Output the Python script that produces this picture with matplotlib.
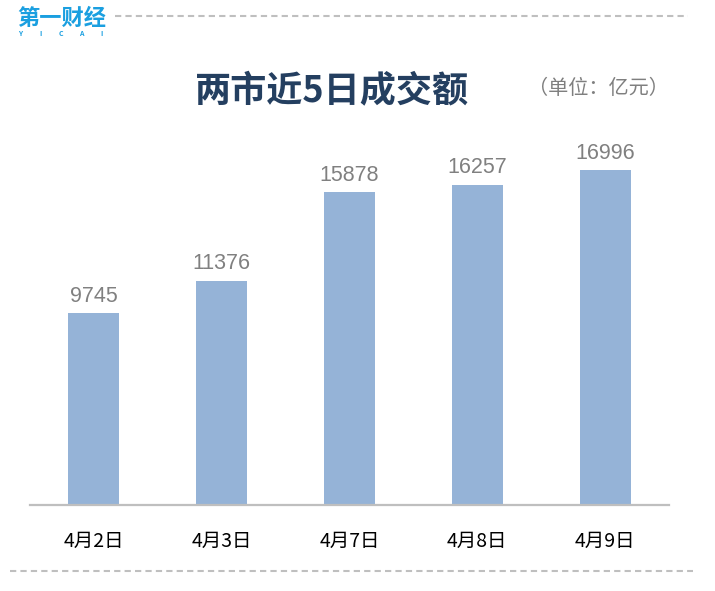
import matplotlib.pyplot as plt
from matplotlib.lines import Line2D

plt.rcParams['font.family'] = ['Noto Sans CJK SC', 'DejaVu Sans']

dates = ['4月2日', '4月3日', '4月7日', '4月8日', '4月9日']
turnover = [9745, 11376, 15878, 16257, 16996]

W, H = 715, 591
fig = plt.figure(figsize=(W / 100, H / 100), dpi=100)

# axes placed in pixel terms: baseline at y=505, x from 30 to 669
ax = fig.add_axes([30 / W, 1 - 505 / H, (669 - 30) / W, 394 / H])
x = range(len(dates))
bars = ax.bar(x, turnover, width=0.4, color='#95B3D7')
ax.set_xlim(-0.5, 4.5)
ax.set_ylim(0, 20000)
for s in ['top', 'right', 'left']:
    ax.spines[s].set_visible(False)
ax.spines['bottom'].set_color('#BFBFBF')
ax.spines['bottom'].set_linewidth(1.6)
ax.set_yticks([])
ax.set_xticks(list(x))
ax.set_xticklabels(dates, fontsize=14, color='black')
ax.tick_params(axis='x', length=0, pad=19)

for b, v in zip(bars, turnover):
    ax.text(b.get_x() + b.get_width() / 2, v + 330, str(v),
            ha='center', va='bottom', fontsize=15.5, color='#808080',
            family=['Liberation Sans', 'DejaVu Sans'])

# title and unit
fig.text(332 / W, 1 - 92 / H, '两市近5日成交额', ha='center', va='center',
         fontsize=26, fontweight='bold', color='#243F60')
fig.text(598 / W, 1 - 88 / H, '（单位：亿元）', ha='center', va='center',
         fontsize=14.5, color='#7F7F7F')

# logo
fig.text(17 / W, 1 - 18 / H, '第一财经', ha='left', va='center',
         fontsize=16, fontweight='bold', color='#1A9FE0')
for ch, px in zip('YICAI', [20, 40, 61, 81, 102]):
    fig.text(px / W, 1 - 33 / H, ch, ha='center', va='center',
             fontsize=5, fontweight='bold', color='#1A9FE0')

# dashed separators
fig.add_artist(Line2D([115 / W, 688 / W], [1 - 16 / H, 1 - 16 / H],
                      transform=fig.transFigure, color='#BFBFBF',
                      linestyle=(0, (3, 2)), linewidth=1.5))
fig.add_artist(Line2D([10 / W, 693 / W], [1 - 571 / H, 1 - 571 / H],
                      transform=fig.transFigure, color='#BFBFBF',
                      linestyle=(0, (3, 2)), linewidth=1.5))

fig.savefig('out.png', dpi=100)
